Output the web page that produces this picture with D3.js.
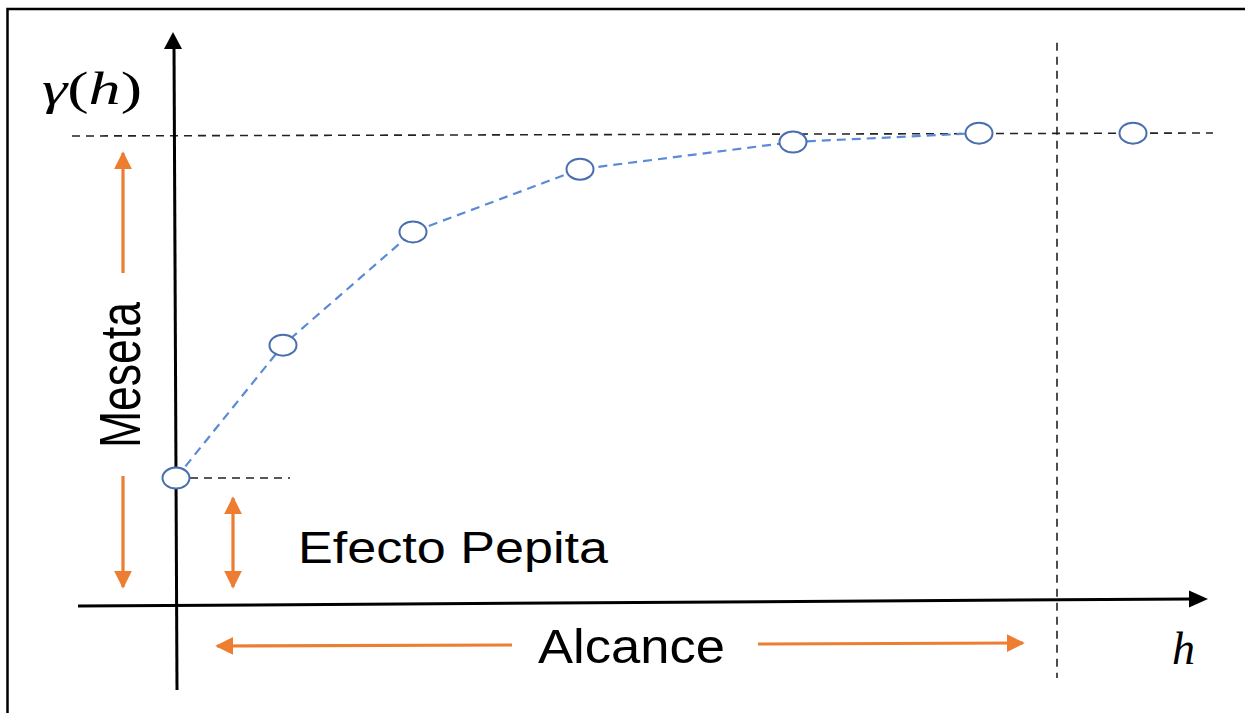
<!DOCTYPE html>
<html>
<head>
<meta charset="utf-8">
<script src="https://cdn.jsdelivr.net/npm/d3@7"></script>
<style>
  html, body { margin: 0; padding: 0; background: #fff; }
  svg { display: block; }
</style>
</head>
<body>
<svg id="chart" width="1245" height="713"></svg>
<script>
// ---- data ----
const lags = [0, 1.07, 2.37, 4.04, 6.17, 8.03, 9.57];          // h
const gammaVals = [0.267, 0.551, 0.793, 0.927, 0.985, 1.004, 1.004]; // gamma(h)
const sill = 1.0;
const nugget = 0.267;
const rangeH = 8.81;
const curveCount = 6; // points joined by the blue dashed curve
const annotationLabels = ["Meseta", "Efecto Pepita", "Alcance"];
const axisLabels = ["h"];

// ---- setup ----
const W = 1245, H = 713;
const svg = d3.select("#chart");
const x = d3.scaleLinear().domain([0, 10]).range([176, 1176]);
const y = d3.scaleLinear().domain([0, 1]).range([603, 135]);

const ORANGE = "#ED7D31";
const BLACK = "#000";

// frame (top & left visible)
svg.append("rect").attr("x", 7.5).attr("y", 9).attr("width", W + 20).attr("height", H + 20)
  .attr("fill", "none").attr("stroke", BLACK).attr("stroke-width", 2.5);

// ---- reference lines ----
// sill
svg.append("line")
  .attr("x1", x(-1.04)).attr("x2", x(10.37))
  .attr("y1", y(sill) + 1).attr("y2", y(sill) - 2)
  .attr("stroke", "#222").attr("stroke-width", 1.6).attr("stroke-dasharray", "8,6");
// range
svg.append("line")
  .attr("x1", x(rangeH)).attr("x2", x(rangeH))
  .attr("y1", y(1.197)).attr("y2", y(-0.16))
  .attr("stroke", "#222").attr("stroke-width", 1.6).attr("stroke-dasharray", "8,6");
// nugget
svg.append("line")
  .attr("x1", x(0.14)).attr("x2", x(1.14))
  .attr("y1", y(nugget)).attr("y2", y(nugget))
  .attr("stroke", "#222").attr("stroke-width", 1.4).attr("stroke-dasharray", "8,6");

// ---- axes ----
// y axis
svg.append("line")
  .attr("x1", x(0) - 2).attr("y1", 45)
  .attr("x2", x(0) + 1).attr("y2", 690)
  .attr("stroke", BLACK).attr("stroke-width", 3);
svg.append("path")
  .attr("d", `M${x(0)-3},32 L${x(0)-12},49 L${x(0)+6},49 Z`)
  .attr("fill", BLACK);
// x axis
svg.append("line")
  .attr("x1", 78).attr("y1", 606)
  .attr("x2", 1192).attr("y2", 599)
  .attr("stroke", BLACK).attr("stroke-width", 3);
svg.append("path")
  .attr("d", `M1208,599 L1189,590.5 L1189,607.5 Z`)
  .attr("fill", BLACK);

// ---- curve ----
const pts = lags.map((h, i) => ({ h, g: gammaVals[i] }));
const line = d3.line().x(d => x(d.h)).y(d => y(d.g));
svg.append("path")
  .datum(pts.slice(0, curveCount))
  .attr("d", line)
  .attr("fill", "none")
  .attr("stroke", "#5B8BD6")
  .attr("stroke-width", 2.2)
  .attr("stroke-dasharray", "9,6");

svg.selectAll("ellipse.pt")
  .data(pts)
  .join("ellipse")
  .attr("class", "pt")
  .attr("cx", d => x(d.h))
  .attr("cy", d => y(d.g))
  .attr("rx", 13.5).attr("ry", 10.5)
  .attr("fill", "#fff")
  .attr("stroke", "#4A6FAE")
  .attr("stroke-width", 2);

// ---- orange arrows ----
const defs = svg.append("defs");
defs.append("marker")
  .attr("id", "oh")
  .attr("viewBox", "0 0 10 10")
  .attr("refX", 9).attr("refY", 5)
  .attr("markerUnits", "userSpaceOnUse")
  .attr("markerWidth", 18).attr("markerHeight", 20)
  .attr("orient", "auto-start-reverse")
  .append("path").attr("d", "M0,0 L10,5 L0,10 Z").attr("fill", ORANGE);

function arrow(x1, y1, x2, y2, both) {
  const l = svg.append("line")
    .attr("x1", x1).attr("y1", y1).attr("x2", x2).attr("y2", y2)
    .attr("stroke", ORANGE).attr("stroke-width", 3.2)
    .attr("marker-end", "url(#oh)");
  if (both) l.attr("marker-start", "url(#oh)");
}
// Meseta
arrow(123, 273, 123, 153);
arrow(123, 476, 123, 587);
// Efecto Pepita
arrow(233, 498, 233, 587, true);
// Alcance
arrow(512, 645, 217, 646);
arrow(758, 644, 1023, 643);

// ---- text ----
const SANS = "'Liberation Sans', Arial, sans-serif";
svg.append("text")
  .attr("transform", "translate(140,448) rotate(-90)")
  .attr("font-family", SANS).attr("font-size", 58)
  .attr("textLength", 146).attr("lengthAdjust", "spacingAndGlyphs")
  .attr("fill", BLACK)
  .text(annotationLabels[0]);

svg.append("text")
  .attr("x", 298).attr("y", 563)
  .attr("font-family", SANS).attr("font-size", 44)
  .attr("textLength", 310).attr("lengthAdjust", "spacingAndGlyphs")
  .attr("fill", BLACK)
  .text(annotationLabels[1]);

svg.append("text")
  .attr("x", 538).attr("y", 663)
  .attr("font-family", SANS).attr("font-size", 48)
  .attr("textLength", 187).attr("lengthAdjust", "spacingAndGlyphs")
  .attr("fill", BLACK)
  .text(annotationLabels[2]);

// gamma(h)
const SERIF = "'Liberation Serif', 'Times New Roman', serif";
const gt = svg.append("text")
  .attr("x", 42).attr("y", 104)
  .attr("font-family", SERIF).attr("font-size", 46)
  .attr("textLength", 100).attr("lengthAdjust", "spacingAndGlyphs")
  .attr("fill", BLACK);
gt.append("tspan").attr("font-style", "italic").text("γ");
gt.append("tspan").text("(");
gt.append("tspan").attr("font-style", "italic").text("h");
gt.append("tspan").text(")");

svg.append("text")
  .attr("x", 1172).attr("y", 664)
  .attr("font-family", SERIF).attr("font-style", "italic").attr("font-size", 46)
  .attr("fill", BLACK)
  .text(axisLabels[0]);
</script>
</body>
</html>
